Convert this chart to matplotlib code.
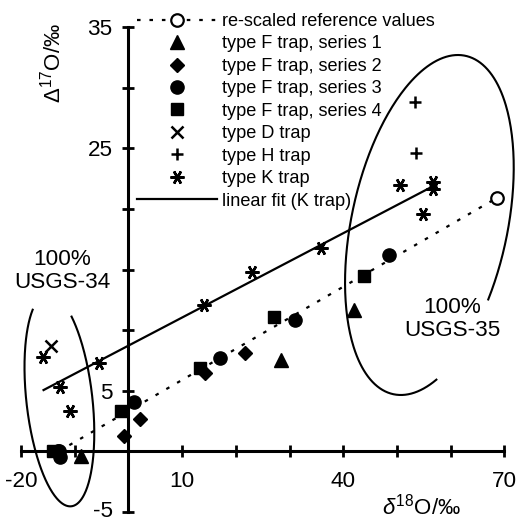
import numpy as np
import matplotlib
matplotlib.use("Agg")
import matplotlib.pyplot as plt
from matplotlib.transforms import ScaledTranslation

plt.rcParams['font.family'] = ['Liberation Sans', 'DejaVu Sans']
plt.rcParams['mathtext.fontset'] = 'custom'
plt.rcParams['mathtext.rm'] = 'Liberation Sans'
plt.rcParams['mathtext.it'] = 'Liberation Sans:italic'
plt.rcParams['mathtext.bf'] = 'Liberation Sans:bold'

# ---------------- data ----------------
ref_x = [-13.0, 68.6]
ref_y = [0.0, 20.9]

f1_x = [-8.9, 28.5, 42.1]
f1_y = [-0.4, 7.5, 11.7]

f2_x = [-0.9, 2.2, 14.3, 21.8]
f2_y = [1.3, 2.7, 6.5, 8.1]

f3_x = [-13.2, -12.7, 1.0, 17.1, 31.1, 48.5]
f3_y = [0.0, -0.5, 4.1, 7.7, 10.8, 16.2]

f4_x = [-14.0, -1.3, 13.4, 27.2, 43.8]
f4_y = [0.0, 3.3, 6.85, 11.1, 14.5]

d_x = [-14.4]
d_y = [8.7]

h_x = [53.3, 53.6]
h_y = [28.8, 24.6]

k_x = [-15.9, -12.7, -10.9, -5.4, 14.0, 23.0, 35.8, 50.5, 56.7, 56.7, 54.8]
k_y = [7.8, 5.3, 3.3, 7.3, 12.1, 14.8, 16.75, 22.0, 22.2, 21.6, 19.6]

fit_range = [-15.8, 56.8]
fit_slope = 0.2318
fit_intercept = 8.72

x_ticks = list(range(-20, 71, 10))
x_ticklabels = ['-20', '', '', '10', '', '', '40', '', '', '70']
y_ticks = list(range(-5, 36, 5))
y_ticklabels = ['-5', '', '5', '', '', '', '25', '', '35']

legend_labels = ['re-scaled reference values', 'type F trap, series 1',
                 'type F trap, series 2', 'type F trap, series 3',
                 'type F trap, series 4', 'type D trap', 'type H trap',
                 'type K trap', 'linear fit (K trap)']

# ---------------- figure ----------------
W, H = 517, 521
fig = plt.figure(figsize=(W / 100, H / 100), dpi=100)
ax = fig.add_axes([21 / W, (H - 512) / H, 483.3 / W, 485 / H])
ax.set_xlim(-20, 70)
ax.set_ylim(-5, 35)

for s in ['top', 'right']:
    ax.spines[s].set_visible(False)
ax.spines['left'].set_position(('data', 0))
ax.spines['bottom'].set_position(('data', 0))
for s in ['left', 'bottom']:
    ax.spines[s].set_linewidth(2.2)

ax.set_xticks(x_ticks)
ax.set_xticklabels(x_ticklabels)
ax.set_yticks(y_ticks)
ax.set_yticklabels(y_ticklabels)
ax.tick_params(axis='both', direction='inout', length=8.5, width=2.0,
               labelsize=16.2)
ax.tick_params(axis='x', pad=10)
ax.tick_params(axis='y', pad=7)
ax.patch.set_visible(False)

# nudge the lowest y label up slightly so it stays inside the canvas
lab = ax.get_yticklabels()[0]
lab.set_transform(lab.get_transform() +
                  ScaledTranslation(0, 3 / 100, fig.dpi_scale_trans))

ms = 9
mew = 1.6
ref_style = dict(color='black', linestyle=(0, (1.6, 4.0)), linewidth=1.6,
                 marker='o', markersize=ms, markerfacecolor='white',
                 markeredgecolor='black', markeredgewidth=mew)
h_ref, = ax.plot(ref_x, ref_y, **ref_style, zorder=2)

h_f1, = ax.plot(f1_x, f1_y, linestyle='none', marker='^', markersize=10,
                color='black', zorder=3)
h_f2, = ax.plot(f2_x, f2_y, linestyle='none', marker='D', markersize=7.5,
                color='black', zorder=3)
h_f3, = ax.plot(f3_x, f3_y, linestyle='none', marker='o', markersize=9.5,
                color='black', zorder=3)
h_f4, = ax.plot(f4_x, f4_y, linestyle='none', marker='s', markersize=9,
                color='black', zorder=3)
h_d, = ax.plot(d_x, d_y, linestyle='none', marker='x', markersize=8,
               markeredgewidth=1.8, color='black', zorder=3)
h_h, = ax.plot(h_x, h_y, linestyle='none', marker='+', markersize=9,
               markeredgewidth=1.8, color='black', zorder=3)
h_k, = ax.plot(k_x, k_y, linestyle='none', marker=(6, 2, 90), markersize=10,
               markeredgewidth=1.8, color='black', zorder=3)

fx = np.array(fit_range)
h_fit, = ax.plot(fx, fit_intercept + fit_slope * fx, color='black',
                 linewidth=1.6, zorder=2)


def draw_ellipse(cx, cy, a_px, b_px, tilt_deg, t0_deg, t1_deg):
    c = ax.transData.transform((cx, cy))
    th = np.radians(tilt_deg)
    u = np.array([np.cos(th), np.sin(th)])
    v = np.array([-np.sin(th), np.cos(th)])
    t = np.radians(np.linspace(t0_deg, t1_deg, 300))
    pts = (c[None, :] + np.outer(a_px * np.cos(t), u)
           + np.outer(b_px * np.sin(t), v))
    dat = ax.transData.inverted().transform(pts)
    ax.plot(dat[:, 0], dat[:, 1], color='black', linewidth=1.5, zorder=1,
            clip_on=False)


draw_ellipse(-12.85, 4.24, 33, 107, 6.4, 120, 409.6)
draw_ellipse(56.05, 18.67, 78, 173, -12, -20.5, 300)

ax.text(-12.3, 14.9, '100%\nUSGS-34', fontsize=16.2, ha='center',
        va='center', linespacing=1.15)
ax.text(60.3, 10.9, '100%\nUSGS-35', fontsize=16.2, ha='center',
        va='center', linespacing=1.15)

fig.text(53 / W, 1 - 63 / H, r'$\Delta^{17}$O/‰', rotation=90,
         fontsize=16, ha='center', va='center')
fig.text(421 / W, 1 - 519 / H, r'$\delta^{18}$O/‰', fontsize=16,
         ha='center', va='bottom')

handles = [h_ref, h_f1, h_f2, h_f3, h_f4, h_d, h_h, h_k, h_fit]
fig.legend(handles, legend_labels, loc='upper left',
           bbox_to_anchor=(137 / W, 1 - 13 / H), frameon=False,
           fontsize=13.1, handlelength=4.4, handletextpad=0.26,
           labelspacing=0.30, borderpad=0, borderaxespad=0, numpoints=1)

fig.savefig('out.png', dpi=100)
